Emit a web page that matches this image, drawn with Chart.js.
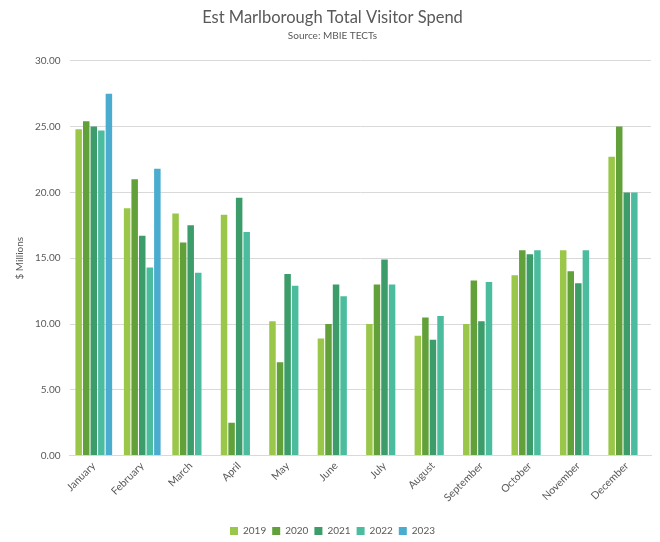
<!DOCTYPE html>
<html>
<head>
<meta charset="utf-8">
<script src="https://cdn.jsdelivr.net/npm/chart.js@4/dist/chart.umd.min.js"></script>
<style>
html,body{margin:0;padding:0;background:#fff;}
#wrap{width:660px;height:542px;position:relative;}
</style>
</head>
<body>
<div id="wrap"><canvas id="c" width="660" height="542"></canvas></div>
<script>
const months = ["January","February","March","April","May","June","July","August","September","October","November","December"];
const y2019 = [24.8, 18.8, 18.4, 18.3, 10.2, 8.9, 10.0, 9.1, 10.0, 13.7, 15.6, 22.7];
const y2020 = [25.4, 21.0, 16.2, 2.5, 7.1, 10.0, 13.0, 10.5, 13.3, 15.6, 14.0, 25.0];
const y2021 = [25.0, 16.7, 17.5, 19.6, 13.8, 13.0, 14.9, 8.8, 10.2, 15.3, 13.1, 20.0];
const y2022 = [24.7, 14.3, 13.9, 17.0, 12.9, 12.1, 13.0, 10.6, 13.2, 15.6, 15.6, 20.0];
const y2023 = [27.5, 21.8, null, null, null, null, null, null, null, null, null, null];
const seriesNames = ["2019","2020","2021","2022","2023"];
const colors = ["#9ac749","#62a03a","#3c9c6a","#4bbd9e","#4aadcf"];
const yTicks = [0, 5, 10, 15, 20, 25, 30];

const seriesData = [y2019, y2020, y2021, y2022, y2023];
const datasets = seriesNames.map((n, i) => ({
  label: n,
  data: seriesData[i],
  backgroundColor: colors[i],
  borderWidth: 0,
  categoryPercentage: 0.78,
  barPercentage: 0.86
}));

const grey = "#595959";
new Chart(document.getElementById("c"), {
  type: "bar",
  data: { labels: months, datasets },
  options: {
    responsive: false,
    animation: false,
    devicePixelRatio: 1,
    layout: { padding: { top: 6, right: 9, left: 14, bottom: -4 } },
    plugins: {
      title: {
        display: true,
        text: "Est Marlborough Total Visitor Spend",
        color: grey,
        font: { family: "Lato", size: 16.5, weight: "normal" },
        padding: { top: 2, bottom: 2 }
      },
      subtitle: {
        display: true,
        text: "Source: MBIE TECTs",
        color: grey,
        font: { family: "Lato", size: 10, weight: "normal" },
        padding: { top: 0, bottom: 19 }
      },
      legend: {
        position: "bottom",
        labels: {
          boxWidth: 8, boxHeight: 8, color: grey,
          font: { family: "Lato", size: 10 },
          padding: 6
        }
      },
      tooltip: { enabled: false }
    },
    scales: {
      x: {
        grid: { display: false, drawTicks: false },
        border: { color: "#d9d9d9" },
        afterFit: (s) => { s.height += 12; },
        ticks: {
          color: grey, font: { family: "Lato", size: 10.5 },
          maxRotation: 45, minRotation: 45, padding: 4
        }
      },
      y: {
        min: 0, max: 30,
        afterBuildTicks: (s) => { s.ticks = yTicks.map(v => ({ value: v })); },
        grid: { color: "#d9d9d9", drawTicks: false },
        border: { display: false },
        ticks: {
          color: grey, font: { family: "Lato", size: 10 }, padding: 9,
          callback: (v) => Number(v).toFixed(2)
        },
        title: {
          display: true, text: "$ Millions", color: grey,
          font: { family: "Lato", size: 10 }, padding: { top: 0, bottom: 0 }
        }
      }
    }
  }
});
</script>
</body>
</html>
